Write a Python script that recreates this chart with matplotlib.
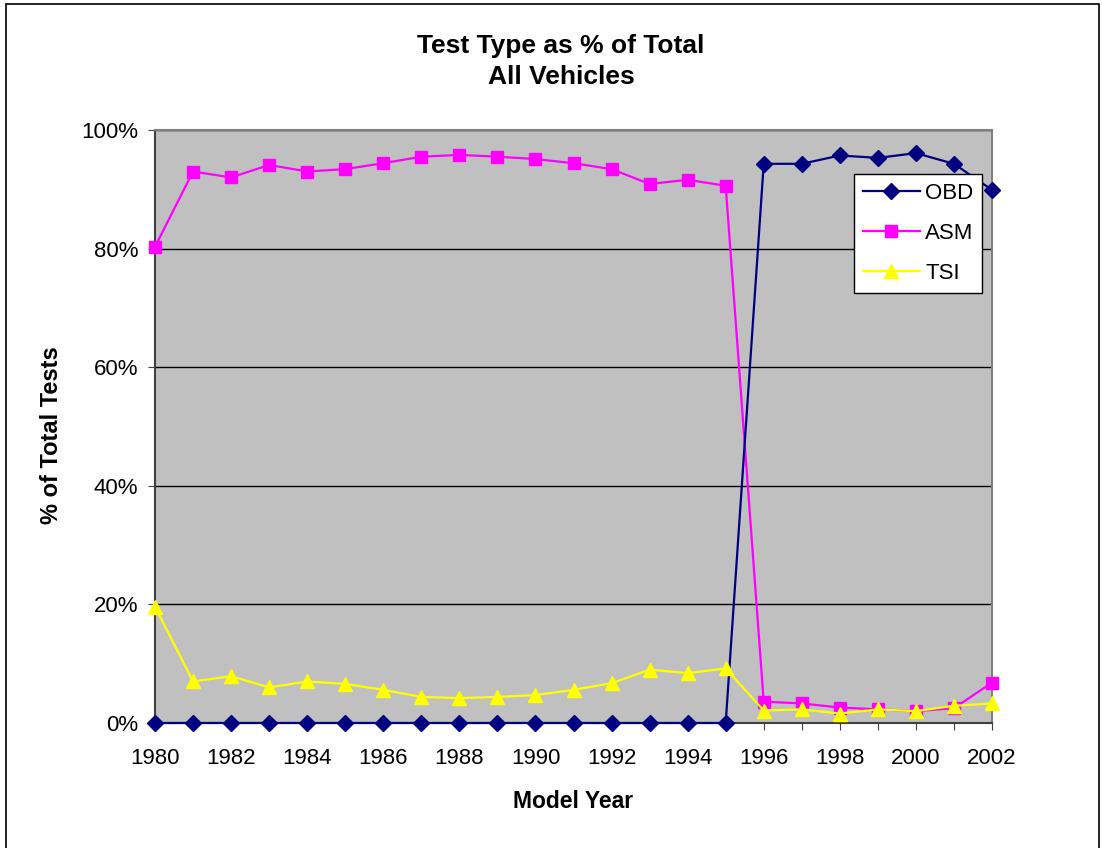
import numpy as np
import matplotlib.pyplot as plt
from matplotlib.patches import Rectangle

plt.rcParams['font.family'] = ['Liberation Sans', 'DejaVu Sans']

years = list(range(1980, 2003))
obd = [0, 0, 0, 0, 0, 0, 0, 0, 0, 0, 0, 0, 0, 0, 0, 0,
       94.3, 94.3, 95.7, 95.3, 96.1, 94.3, 89.9]
asm = [80.3, 93.0, 92.0, 94.1, 93.0, 93.4, 94.4, 95.5, 95.8, 95.5, 95.1, 94.4,
       93.4, 90.9, 91.6, 90.6, 3.6, 3.3, 2.6, 2.3, 2.0, 2.5, 6.8]
tsi = [19.6, 7.0, 7.9, 6.0, 7.0, 6.6, 5.6, 4.4, 4.2, 4.4, 4.7, 5.6,
       6.7, 9.0, 8.4, 9.2, 2.1, 2.3, 1.6, 2.3, 2.0, 2.9, 3.3]

W, H = 1102, 848
fig = plt.figure(figsize=(W / 100, H / 100), dpi=100)
ax = fig.add_axes([155 / W, 1 - 723 / H, (992 - 155) / W, (723 - 130) / H])
ax.set_facecolor('#C0C0C0')

# outer chart frame
fig.patches.append(Rectangle((6 / W, -0.01), (1099 - 6) / W, 1 - 4 / H + 0.01,
                             transform=fig.transFigure, fill=False,
                             edgecolor='black', lw=1.2, zorder=0))

ax.plot(years, obd, color='#000080', marker='D', ms=8, lw=1.6, label='OBD', clip_on=False, zorder=4)
ax.plot(years, asm, color='#FF00FF', marker='s', ms=9, lw=1.6, label='ASM', clip_on=False, zorder=3)
ax.plot(years, tsi, color='#FFFF00', marker='^', ms=10, lw=1.6, label='TSI', clip_on=False, zorder=5)

ax.set_xlim(1980, 2002)
ax.set_ylim(0, 100)
ax.set_yticks(range(0, 101, 20))
ax.set_yticklabels([f'{v}%' for v in range(0, 101, 20)])
ax.set_xticks(years)
ax.set_xticklabels([str(y) if y % 2 == 0 else '' for y in years])
ax.tick_params(axis='both', labelsize=16, direction='out', length=5, color='#404040')
ax.tick_params(axis='x', pad=13)
ax.tick_params(axis='y', pad=7)
ax.yaxis.grid(True, color='black', lw=1)
ax.set_axisbelow(True)

for side in ['top', 'right']:
    ax.spines[side].set_color('#808080')
    ax.spines[side].set_linewidth(1.5)
for side in ['left', 'bottom']:
    ax.spines[side].set_color('#404040')
    ax.spines[side].set_linewidth(1.5)

ax.set_xlabel('Model Year', fontsize=16.5, fontweight='bold')
ax.xaxis.set_label_coords(0.5, (723 - 790) / 593)
ax.set_ylabel('% of Total Tests', fontsize=17, fontweight='bold')
ax.yaxis.set_label_coords((63 - 155) / 837, (723 - 435) / 593)
fig.text(561 / W, 1 - 46 / H, 'Test Type as % of Total', ha='center', va='center',
         fontsize=19, fontweight='bold')
fig.text(561 / W, 1 - 77 / H, 'All Vehicles', ha='center', va='center',
         fontsize=19, fontweight='bold')

leg = ax.legend(loc='upper left', bbox_to_anchor=((854 - 155) / 837, (723 - 174) / 593),
                fontsize=16, frameon=True, fancybox=False, edgecolor='black',
                framealpha=1, borderpad=0.4, labelspacing=0.85, handlelength=2.55,
                handletextpad=0.25, borderaxespad=0)
leg.get_frame().set_linewidth(1.0)

fig.savefig('out.png', dpi=100)
